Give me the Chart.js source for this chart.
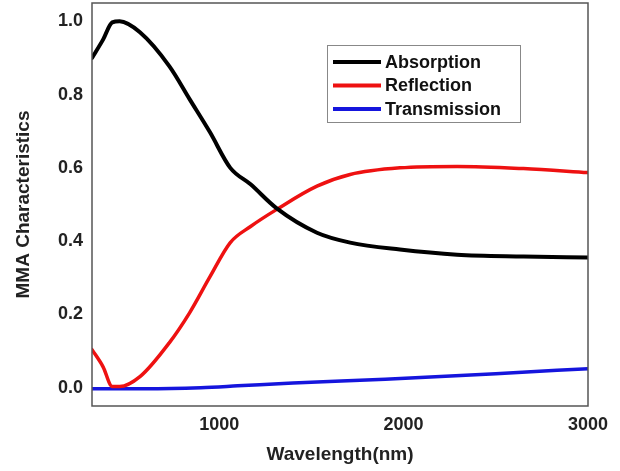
<!DOCTYPE html>
<html lang="en">
<head>
    <meta charset="UTF-8">
    <title>MMA Characteristics</title>
    <script src="https://cdn.jsdelivr.net/npm/chart.js@4.4.0/dist/chart.umd.min.js"></script>
    <style>
        body { margin: 0; background: #fff; }
        #wrap { width: 620px; height: 471px; }
    </style>
</head>
<body>
    <div id="wrap"><canvas id="mmaChart" width="620" height="471"></canvas></div>
    <script>
        // values
        const wavelengths = [310, 370, 420, 460, 570, 730, 840, 950, 1060, 1170, 1310, 1530, 1710, 1980, 2290, 2650, 3000];
        const absorption = [0.90, 0.95, 0.997, 1.0, 0.97, 0.877, 0.787, 0.697, 0.60, 0.555, 0.49, 0.423, 0.396, 0.377, 0.363, 0.358, 0.355];
        const reflection = [0.104, 0.057, 0.003, 0.003, 0.03, 0.123, 0.205, 0.303, 0.396, 0.44, 0.486, 0.55, 0.582, 0.60, 0.604, 0.598, 0.587];
        const transWavelengths = [310, 600, 900, 1100, 1400, 1900, 2500, 3000];
        const transmission = [-0.003, -0.003, 0.0, 0.005, 0.013, 0.023, 0.038, 0.052];

        const xTicks = [1000, 2000, 3000];
        const yTicks = [0, 0.2, 0.4, 0.6, 0.8, 1.0];

        const seriesNames = ['Absorption', 'Reflection', 'Transmission'];
        const seriesColors = ['#000000', '#ee1111', '#1515dd'];

        const toPoints = (xs, ys) => xs.map((x, i) => ({ x: x, y: ys[i] }));

        const fontFamily = '"Liberation Sans", Arial, sans-serif';

        // frame around the plot area + legend box inside it
        const framePlugin = {
            id: 'frameAndLegend',
            afterDraw(chart) {
                const ctx = chart.ctx;
                const a = chart.chartArea;
                ctx.save();
                ctx.strokeStyle = '#555';
                ctx.lineWidth = 1.5;
                ctx.strokeRect(a.left, a.top, a.right - a.left, a.bottom - a.top);

                const bx = a.left + 235, by = a.top + 42;
                ctx.fillStyle = '#fff';
                ctx.fillRect(bx, by, 193, 77);
                ctx.strokeStyle = '#888';
                ctx.lineWidth = 1;
                ctx.strokeRect(bx + 0.5, by + 0.5, 193, 77);

                ctx.font = 'bold 18px ' + fontFamily;
                ctx.textBaseline = 'middle';
                seriesNames.forEach((name, i) => {
                    const y = by + 17 + i * 23.5;
                    ctx.strokeStyle = seriesColors[i];
                    ctx.lineWidth = 4;
                    ctx.beginPath();
                    ctx.moveTo(bx + 6, y);
                    ctx.lineTo(bx + 54, y);
                    ctx.stroke();
                    ctx.fillStyle = '#111';
                    ctx.fillText(name, bx + 58, y + 1);
                });
                ctx.restore();
            }
        };

        new Chart(document.getElementById('mmaChart'), {
            type: 'line',
            data: {
                datasets: [
                    { label: seriesNames[0], data: toPoints(wavelengths, absorption), borderColor: seriesColors[0], borderWidth: 4 },
                    { label: seriesNames[1], data: toPoints(wavelengths, reflection), borderColor: seriesColors[1], borderWidth: 3.5 },
                    { label: seriesNames[2], data: toPoints(transWavelengths, transmission), borderColor: seriesColors[2], borderWidth: 3.5 }
                ]
            },
            options: {
                responsive: false,
                animation: false,
                layout: { padding: { top: 3, right: 32, left: 0, bottom: 0 } },
                elements: {
                    point: { radius: 0 },
                    line: { cubicInterpolationMode: 'monotone', borderCapStyle: 'round', borderJoinStyle: 'round' }
                },
                plugins: { legend: { display: false }, tooltip: { enabled: false } },
                scales: {
                    x: {
                        type: 'linear',
                        min: 310,
                        max: 3000,
                        grid: { display: false, drawTicks: false },
                        border: { display: false },
                        afterBuildTicks: scale => { scale.ticks = xTicks.map(v => ({ value: v })); },
                        afterFit: scale => { scale.height = 65; scale.paddingLeft = 0; scale.paddingRight = 0; },
                        ticks: {
                            padding: 8,
                            color: '#222',
                            maxRotation: 0,
                            font: { family: fontFamily, size: 18, weight: 'bold' },
                            callback: v => v
                        },
                        title: {
                            display: true,
                            text: 'Wavelength(nm)',
                            color: '#222',
                            padding: 5,
                            font: { family: fontFamily, size: 19, weight: 'bold' }
                        }
                    },
                    y: {
                        min: -0.05,
                        max: 1.05,
                        grid: { display: false, drawTicks: false },
                        border: { display: false },
                        afterBuildTicks: scale => { scale.ticks = yTicks.map(v => ({ value: v })); },
                        afterFit: scale => { scale.width = 92; scale.paddingTop = 0; scale.paddingBottom = 0; },
                        ticks: {
                            padding: 9,
                            color: '#222',
                            font: { family: fontFamily, size: 18, weight: 'bold' },
                            callback: v => v.toFixed(1)
                        },
                        title: {
                            display: true,
                            text: 'MMA Characteristics',
                            color: '#222',
                            padding: 12,
                            font: { family: fontFamily, size: 19, weight: 'bold' }
                        }
                    }
                }
            },
            plugins: [framePlugin]
        });
    </script>
</body>
</html>
